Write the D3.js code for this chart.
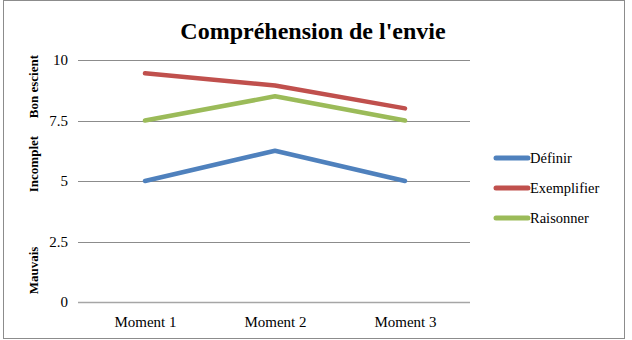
<!DOCTYPE html>
<html>
<head>
<meta charset="utf-8">
<script src="https://cdn.jsdelivr.net/npm/d3@7"></script>
<style>
  body { margin: 0; background: #fff; }
  text { font-family: 'Liberation Serif', 'DejaVu Serif', serif; fill: #000; }
</style>
</head>
<body>
<div id="chart"></div>
<script>
const moments = ['Moment 1', 'Moment 2', 'Moment 3'];
const yTicks = [0, 2.5, 5, 7.5, 10];
const definir = [5, 6.25, 5];
const exemplifier = [9.45, 8.95, 8];
const raisonner = [7.5, 8.5, 7.5];
const seriesNames = ['Définir', 'Exemplifier', 'Raisonner'];
const colors = ['#4f81bd', '#c0504d', '#9bbb59'];
const levels = [
  { label: 'Bon escient', at: 8.9 },
  { label: 'Incomplet', at: 5.7 },
  { label: 'Mauvais', at: 1.3 }
];

const W = 632, H = 340;
const margin = { top: 60, right: 162, bottom: 38, left: 80 };
const width = W - margin.left - margin.right,
  height = H - margin.top - margin.bottom;

const svg = d3.select('#chart').append('svg')
  .attr('width', W).attr('height', H);

// frame
svg.append('rect')
  .attr('x', 3.5).attr('y', 0.5)
  .attr('width', 621).attr('height', 338)
  .attr('fill', 'none').attr('stroke', '#8c8c8c');

svg.append('text')
  .attr('x', 313).attr('y', 39)
  .attr('text-anchor', 'middle')
  .attr('font-size', 24).attr('font-weight', 'bold')
  .text("Compréhension de l'envie");

const g = svg.append('g')
  .attr('transform', `translate(${margin.left},${margin.top})`);

const x = d3.scalePoint(moments, [0, width]).padding(0.5);
const y = d3.scaleLinear([0, 10], [height, 0]);

// gridlines
g.append('g')
  .selectAll('line')
  .data(yTicks)
  .join('line')
  .attr('x1', -2).attr('x2', width)
  .attr('y1', d => Math.round(y(d)) + 0.5).attr('y2', d => Math.round(y(d)) + 0.5)
  .attr('stroke', d => d === 0 ? '#a6a6a6' : '#8c8c8c')
  .attr('stroke-width', d => d === 0 ? 1.5 : 1);

// y axis labels
const yAxis = d3.axisLeft(y).tickValues(yTicks).tickSize(0).tickPadding(12)
  .tickFormat(d => String(d));
g.append('g').call(yAxis)
  .call(s => s.select('.domain').remove())
  .selectAll('text')
  .attr('font-size', 15);

// x axis labels
const xAxis = d3.axisBottom(x).tickSize(0).tickPadding(14);
g.append('g')
  .attr('transform', `translate(0,${height})`)
  .call(xAxis)
  .call(s => s.select('.domain').remove())
  .selectAll('text')
  .attr('font-size', 15);

// rotated category labels
svg.append('g')
  .selectAll('text')
  .data(levels)
  .join('text')
  .attr('transform', d => `translate(38,${margin.top + y(d.at)}) rotate(-90)`)
  .attr('text-anchor', 'middle')
  .attr('font-size', 13).attr('font-weight', 'bold')
  .text(d => d.label);

// lines
const allSeries = [definir, exemplifier, raisonner];
const line = d3.line()
  .x((d, i) => x(moments[i]))
  .y(d => y(d));

g.selectAll('.series')
  .data(allSeries)
  .join('path')
  .attr('class', 'series')
  .attr('d', line)
  .attr('fill', 'none')
  .attr('stroke', (d, i) => colors[i])
  .attr('stroke-width', 4.5)
  .attr('stroke-linecap', 'round')
  .attr('stroke-linejoin', 'round');

// legend
const legend = svg.append('g').attr('transform', 'translate(496,158)');
const item = legend.selectAll('g')
  .data(seriesNames)
  .join('g')
  .attr('transform', (d, i) => `translate(0,${i * 30})`);
item.append('line')
  .attr('x1', 0).attr('x2', 32)
  .attr('stroke', (d, i) => colors[i])
  .attr('stroke-width', 5)
  .attr('stroke-linecap', 'round');
item.append('text')
  .attr('x', 34).attr('y', 5)
  .attr('font-size', 14.5)
  .text(d => d);
</script>
</body>
</html>
